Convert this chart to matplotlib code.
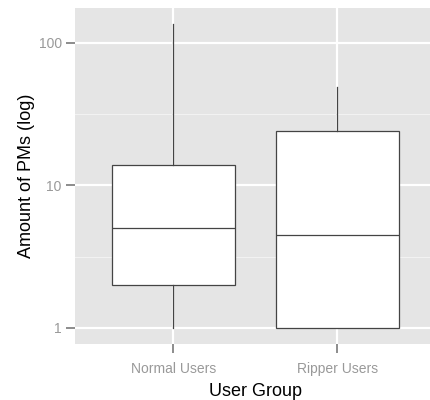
import matplotlib
matplotlib.use("Agg")
import matplotlib.pyplot as plt
import numpy as np

# box summary values (log scale)
groups = ["Normal Users", "Ripper Users"]
whisker_low = [1, 1]
q1 = [2, 1]
median = [5, 4.5]
q3 = [14, 24]
whisker_high = [137, 49]

plt.rcParams["font.family"] = ["Liberation Sans", "DejaVu Sans"]

fig = plt.figure(figsize=(4.3, 4.0), dpi=100)
ax = fig.add_axes([75 / 430, 56 / 400, 360.6 / 430, 336 / 400])
ax.set_facecolor("#e5e5e5")

stats = []
for i, g in enumerate(groups):
    stats.append({"label": g, "whislo": whisker_low[i], "q1": q1[i],
                  "med": median[i], "q3": q3[i], "whishi": whisker_high[i],
                  "fliers": []})

line = dict(color="#444444", linewidth=0.9)
ax.bxp(stats, positions=[1, 2], widths=0.75, patch_artist=True,
       boxprops=dict(facecolor="white", edgecolor="#444444", linewidth=0.9),
       medianprops=line, whiskerprops=line, capprops=dict(linewidth=0),
       showfliers=False, zorder=3)

ax.set_yscale("log")
ax.set_ylim(10 ** -0.1123, 10 ** 2.2456)
ax.set_xlim(0.4, 2.6)
ax.set_yticks([1, 10, 100])
ax.set_yticklabels(["1", "10", "100"])
ax.set_yticks([10 ** 0.5, 10 ** 1.5], minor=True)
ax.yaxis.set_minor_formatter(matplotlib.ticker.NullFormatter())
ax.set_xticks([1, 2])
ax.set_xticklabels(groups)

ax.grid(True, which="major", color="white", linewidth=1.6, zorder=0)
ax.grid(True, which="minor", axis="y", color="#f2f2f2", linewidth=0.8, zorder=0)
ax.set_axisbelow(True)
for s in ax.spines.values():
    s.set_visible(False)

ax.tick_params(axis="both", which="major", colors="#8c8c8c", labelcolor="#999999",
               length=6.5, width=1.4, labelsize=10, pad=3)
ax.tick_params(axis="x", which="major", pad=6.5)
ax.tick_params(axis="y", which="minor", length=0)

ax.set_xlabel("User Group", fontsize=13, labelpad=5)
ax.set_ylabel("Amount of PMs (log)", fontsize=13, labelpad=3)

fig.savefig("out.png", dpi=100)
